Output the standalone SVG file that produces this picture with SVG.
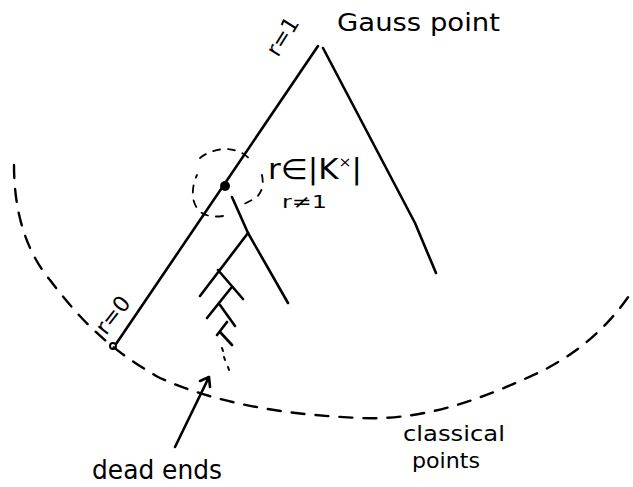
<svg xmlns="http://www.w3.org/2000/svg" width="633" height="487" viewBox="0 0 633 487">
<style>
.ln{fill:none;stroke:#000;stroke-width:2.6;stroke-linecap:round;stroke-linejoin:round}
.th{fill:none;stroke:#000;stroke-width:2;stroke-linecap:round}
.dash{fill:none;stroke:#000;stroke-width:2.4;stroke-linecap:round;stroke-dasharray:13 11}
.dot{fill:none;stroke:#000;stroke-width:1.8;stroke-linecap:round;stroke-dasharray:7 8}
.t{font-family:"DejaVu Sans","Liberation Sans",sans-serif;fill:#000}
</style>
<rect width="633" height="487" fill="#fff"/>
<g id="classical-arc">
<path class="dash" d="M14,165 C14,210 25,250 50,280 C80,320 110,350 160,378 C220,405 290,415 360,418 C430,421 490,395 540,372 C580,352 610,325 633,290"/>
</g>
<g id="gauss-tree">
<path class="ln" d="M318,46 L116,344"/>
<circle cx="113" cy="346" r="3" class="th"/>
<path class="ln" d="M323,48 L415,223 L436,273"/>
<path class="ln" d="M232,197 L248,233 L288,303"/>
<circle cx="225" cy="186" r="5" fill="#000"/>
<path class="dot" d="M200,158 C215,146 240,145 252,162 M262,175 C264,185 262,192 256,198 L244,204 M223,216 C210,218 200,214 197,208 C190,198 193,183 197,175"/>
</g>
<g id="dead-ends">
<path class="ln" d="M248,233 L200,296 M218,270 L243,299 M231,288 L207,318 M220,305 L235,326 M227,322 L217,335 M220,332 L232,345"/>
<path class="th" d="M222,348 L223,351 M224,357 L225,360 M228,367 L229,370"/>
<path class="ln" d="M175,447 L209,377 M200,381 L209,377 L210,387"/>
</g>
<g id="labels">
<text class="t" x="337" y="31" font-size="24" textLength="163" lengthAdjust="spacingAndGlyphs">Gauss point</text>
<text class="t" x="0" y="0" font-size="22" transform="translate(278,58) rotate(-58)">r=1</text>
<text class="t" x="0" y="0" font-size="22" transform="translate(106,336) rotate(-52)">r=0</text>
<text class="t" x="268" y="179" font-size="28" textLength="94" lengthAdjust="spacingAndGlyphs">r∈|K<tspan font-size="14" dy="-12">×</tspan><tspan dy="12">|</tspan></text>
<text class="t" x="282" y="208" font-size="18" textLength="45" lengthAdjust="spacingAndGlyphs">r≠1</text>
<text class="t" x="403" y="441" font-size="21" textLength="102" lengthAdjust="spacingAndGlyphs">classical</text>
<text class="t" x="412" y="468" font-size="21" textLength="68" lengthAdjust="spacingAndGlyphs">points</text>
<text class="t" x="92" y="479" font-size="26" textLength="130" lengthAdjust="spacingAndGlyphs">dead ends</text>
</g>
</svg>
